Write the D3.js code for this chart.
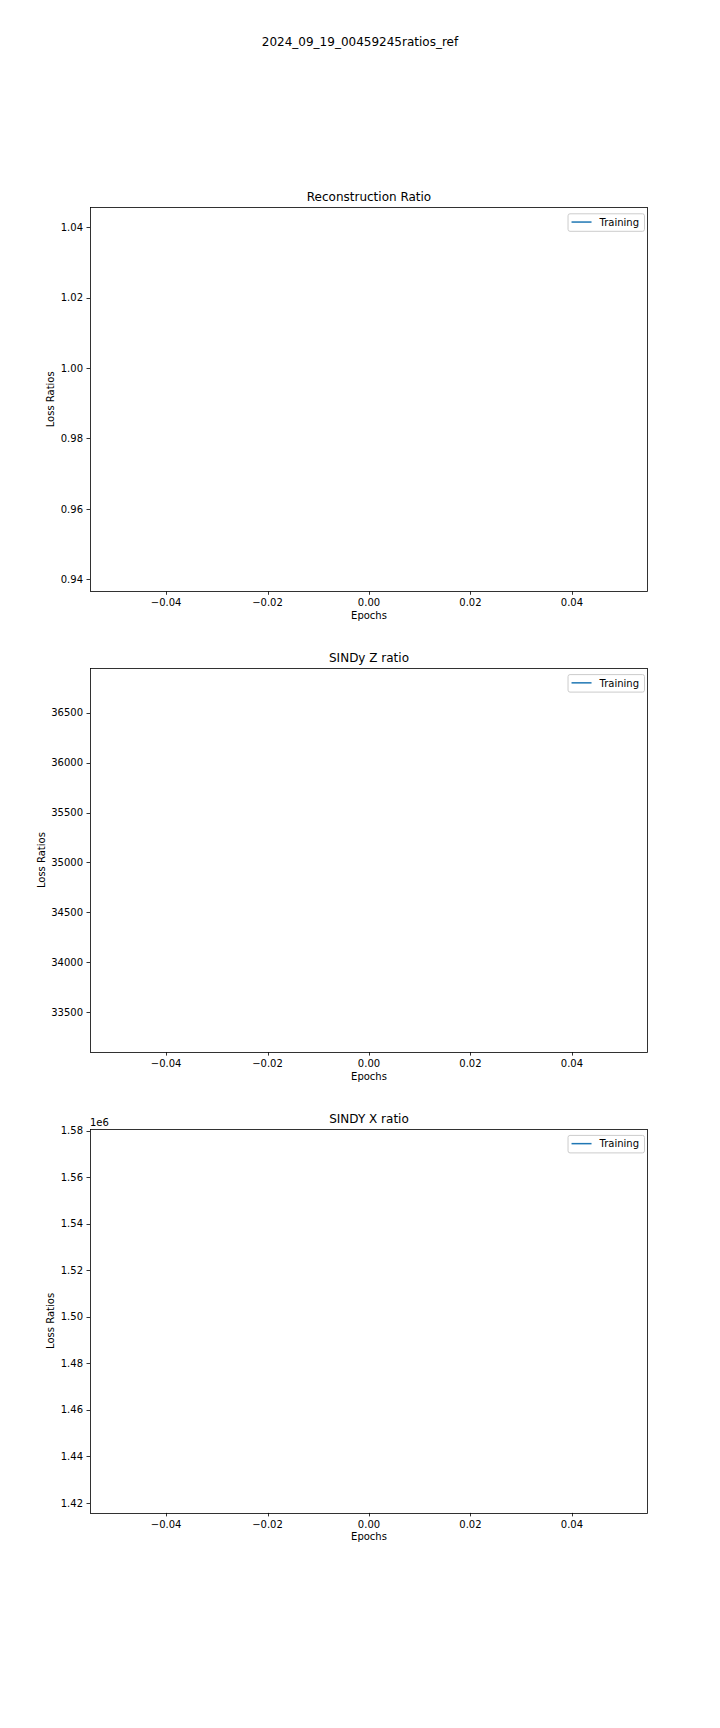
<!DOCTYPE html>
<html>
<head>
<meta charset="utf-8">
<script src="https://cdn.jsdelivr.net/npm/d3@7"></script>
<style>
  html, body { margin: 0; padding: 0; background: #fff; }
  svg { display: block; }
  text { font-family: "DejaVu Sans", sans-serif; fill: #000; }
</style>
</head>
<body>
<svg id="chart" width="720" height="1728"></svg>
<script>
// ---- data (top level) ----
const suptitle = "2024_09_19_00459245ratios_ref";
const panelTitles = ["Reconstruction Ratio", "SINDy Z ratio", "SINDY X ratio"];
const seriesName = "Training";
const epochs = [0];
const reconstructionRatio = [0.9911];
const sindyZRatio = [35024];
const sindyXRatio = [1498200];
const xDomain = [-0.055, 0.055];
const xTicks = [-0.04, -0.02, 0.00, 0.02, 0.04];
const yDomainRecon = [0.93659, 1.04568];
const yDomainZ = [33099, 36948];
const yDomainX = [1415700, 1580720];
const yTicksRecon = [0.94, 0.96, 0.98, 1.00, 1.02, 1.04];
const yTicksZ = [33500, 34000, 34500, 35000, 35500, 36000, 36500];
const yTicksX = [1420000, 1440000, 1460000, 1480000, 1500000, 1520000, 1540000, 1560000, 1580000];

const panels = [
  { title: panelTitles[0], values: reconstructionRatio, domain: yDomainRecon, ticks: yTicksRecon,
    fmt: d => d3.format(".2f")(d), offset: null },
  { title: panelTitles[1], values: sindyZRatio, domain: yDomainZ, ticks: yTicksZ,
    fmt: d => d3.format("d")(d), offset: null },
  { title: panelTitles[2], values: sindyXRatio, domain: yDomainX, ticks: yTicksX,
    fmt: d => d3.format(".2f")(d / 1e6), offset: "1e6" }
];

// ---- layout ----
const svg = d3.select("#chart");
const left = 90, right = 648;
const axH = 384, gap = 76.8, firstTop = 207.3;
const blue = "#1f77b4";
const minus = s => s.replace(/-/g, "\u2212");

svg.append("text")
  .attr("x", 360).attr("y", 45.8)
  .attr("text-anchor", "middle")
  .style("font-size", "12px")
  .text(suptitle);

panels.forEach((p, i) => {
  const top = firstTop + i * (axH + gap);
  const bottom = top + axH;
  const x = d3.scaleLinear().domain(xDomain).range([left, right]);
  const y = d3.scaleLinear().domain(p.domain).range([bottom, top]);
  const g = svg.append("g");

  // line (single point -> nothing visible, as in reference)
  const line = d3.line().x((d, j) => x(epochs[j])).y(d => y(d));
  g.append("path").datum(p.values)
    .attr("d", line)
    .attr("fill", "none").attr("stroke", blue).attr("stroke-width", 1.5)
    .attr("stroke-linecap", "butt");

  // x ticks
  const xt = g.append("g");
  xTicks.forEach(t => {
    const px = Math.round(x(t)) + 0.5;
    xt.append("line").attr("x1", px).attr("x2", px)
      .attr("y1", bottom).attr("y2", bottom + 3.5)
      .attr("stroke", "#000").attr("stroke-width", 0.8);
    xt.append("text").attr("x", x(t)).attr("y", bottom + 14.6)
      .attr("text-anchor", "middle").style("font-size", "10px")
      .text(minus(d3.format(".2f")(t)));
  });

  // y ticks
  const yt = g.append("g");
  let maxW = 0;
  p.ticks.forEach(t => {
    const py = Math.round(y(t)) + 0.5;
    yt.append("line").attr("x1", left - 3.5).attr("x2", left)
      .attr("y1", py).attr("y2", py)
      .attr("stroke", "#000").attr("stroke-width", 0.8);
    const tx = yt.append("text").attr("x", left - 7).attr("y", y(t) + 3.65)
      .attr("text-anchor", "end").style("font-size", "10px")
      .text(p.fmt(t));
    maxW = Math.max(maxW, tx.node().getComputedTextLength());
  });

  // frame
  g.append("rect")
    .attr("x", left + 0.5).attr("y", Math.round(top) + 0.5)
    .attr("width", right - left - 1).attr("height", Math.round(bottom) - Math.round(top))
    .attr("fill", "none").attr("stroke", "#000").attr("stroke-width", 0.8);

  // labels
  g.append("text")
    .attr("x", (left + right) / 2).attr("y", bottom + 27.5)
    .attr("text-anchor", "middle").style("font-size", "10px")
    .text("Epochs");
  const ylx = left - 7 - maxW - 4 - 2.4;
  g.append("text")
    .attr("transform", `translate(${ylx},${(top + bottom) / 2}) rotate(-90)`)
    .attr("text-anchor", "middle").style("font-size", "10px")
    .text("Loss Ratios");
  g.append("text")
    .attr("x", (left + right) / 2).attr("y", top - 6.2)
    .attr("text-anchor", "middle").style("font-size", "12px")
    .text(p.title);
  if (p.offset) {
    g.append("text").attr("x", left).attr("y", top - 3.2)
      .style("font-size", "10px").text(p.offset);
  }

  // legend
  const lg = g.append("g");
  const lt = lg.append("text").attr("y", 0).style("font-size", "10px").text(seriesName);
  const tw = lt.node().getComputedTextLength();
  const boxR = right - 4;
  const boxW = 4 + 20 + 8 + tw + 5;
  const boxL = boxR - boxW;
  const boxT = top + 6, boxB = top + 23.5;
  lg.insert("rect", "text")
    .attr("x", boxL + 0.5).attr("y", boxT + 0.5)
    .attr("width", boxW).attr("height", boxB - boxT)
    .attr("rx", 2).attr("ry", 2)
    .attr("fill", "#fff").attr("fill-opacity", 0.8)
    .attr("stroke", "#cccccc").attr("stroke-width", 1);
  const midY = (boxT + boxB) / 2;
  lg.append("line")
    .attr("x1", boxL + 4).attr("x2", boxL + 24)
    .attr("y1", midY).attr("y2", midY)
    .attr("stroke", blue).attr("stroke-width", 1.5);
  lt.attr("x", boxL + 32).attr("y", midY + 3.65);
});
</script>
</body>
</html>
